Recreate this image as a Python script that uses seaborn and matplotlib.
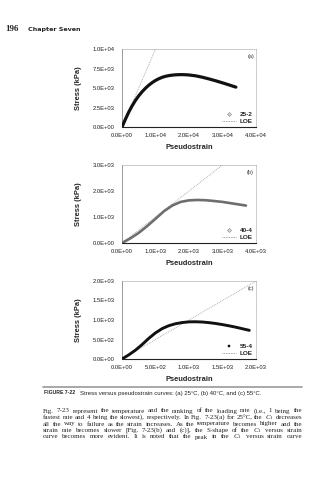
import matplotlib
matplotlib.use("Agg")
import matplotlib.pyplot as plt
import seaborn as sns
from matplotlib.lines import Line2D
from matplotlib.ticker import FuncFormatter, MultipleLocator

# ---------------- data ----------------
ps_a = [0, 1000, 2000, 3000, 4000, 5000, 6000, 7000, 8000, 9000, 10000, 11000, 12000,
        13000, 14000, 15000, 16000, 17000, 18000, 19000, 20000, 22000, 24000, 26000,
        28000, 30000, 32000, 34000]
st_a = [0, 980, 1900, 2700, 3400, 4000, 4520, 4970, 5360, 5690, 5970, 6190, 6370,
        6500, 6590, 6650, 6690, 6710, 6715, 6700, 6670, 6560, 6380, 6160,
        5920, 5660, 5390, 5110]

ps_b = [0, 250, 500, 750, 1000, 1250, 1500, 1750, 2000, 2250, 2500, 2750, 3000, 3250, 3500, 3700]
st_b = [0, 180, 390, 650, 930, 1220, 1440, 1580, 1640, 1655, 1645, 1615, 1580, 1530, 1480, 1440]

ps_c = [0, 100, 200, 300, 400, 500, 600, 700, 800, 900, 1000, 1100, 1200, 1300, 1400,
        1500, 1600, 1700, 1800, 1900]
st_c = [0, 105, 225, 370, 530, 670, 780, 855, 905, 935, 952, 955, 948, 932, 910,
        882, 850, 815, 775, 735]

loe_a = [0, 10000]
loe_b = [0, 3000]
loe_c = [0, 2000]

series_names = ["25-2", "40-4", "55-4"]
panel_tags = ["(a)", "(b)", "(c)"]
x_max = [40000, 4000, 2000]
x_step = [10000, 1000, 500]
y_max = [10000, 3000, 2000]
y_step = [2500, 1000, 500]

x_label = "Pseudostrain"
y_label = "Stress (kPa)"
header_num = "196"
header_txt = "Chapter Seven"
fig_label = "FIGURE 7-22"
caption = "Stress versus pseudostrain curves: (a) 25°C, (b) 40°C, and (c) 55°C."
paragraph = [
    "Fig. 7-23 represent the temperature and the ranking of the loading rate (i.e., 1 being the",
    "fastest rate and 4 being the slowest), respectively. In Fig. 7-23(a) for 25°C, the $C_1$ decreases",
    "all the way to failure as the strain increases. As the temperature becomes higher and the",
    "strain rate becomes slower [Fig. 7-23(b) and (c)], the S-shape of the $C_1$ versus strain",
    "curve becomes more evident. It is noted that the peak in the $C_1$ versus strain curve",
]

# ---------------- style ----------------
sns.set_style("white")
plt.rcParams["font.family"] = ["Liberation Sans", "DejaVu Sans"]
plt.rcParams["mathtext.fontset"] = "custom"
plt.rcParams["mathtext.rm"] = "Liberation Serif"
plt.rcParams["mathtext.it"] = "Liberation Serif:italic"

W, H = 328, 480
fig = plt.figure(figsize=(W / 100, H / 100), dpi=100)
fig.patch.set_facecolor("white")

boxes = [(49, 127), (165, 243), (281, 359)]
left_px, width_px = 122, 134
curves = [(ps_a, st_a, loe_a), (ps_b, st_b, loe_b), (ps_c, st_c, loe_c)]
line_colors = ["#111111", "#6e6e6e", "#111111"]
line_widths = [2.3, 1.9, 2.1]
leg_markers = [dict(marker="D", ms=2.0, mfc="#e0e0e0", mec="#777777", mew=0.4),
               dict(marker="D", ms=2.0, mfc="#e0e0e0", mec="#777777", mew=0.4),
               dict(marker="s", ms=1.6, mfc="#111111", mec="#111111", mew=0.3)]

fmt = FuncFormatter(lambda v, p: f"{v:.1E}")

for i, (top, bot) in enumerate(boxes):
    ax = fig.add_axes([left_px / W, 1 - bot / H, width_px / W, (bot - top) / H])
    xs, ys, loe = curves[i]
    sns.lineplot(x=loe, y=loe, ax=ax, color="#9a9a9a", lw=0.6, ls=(0, (1, 1.2)),
                 legend=False, zorder=2)
    sns.lineplot(x=xs, y=ys, ax=ax, color=line_colors[i], lw=line_widths[i],
                 legend=False, zorder=3)
    ax.set_xlim(0, x_max[i])
    ax.set_ylim(0, y_max[i])
    ax.xaxis.set_major_locator(MultipleLocator(x_step[i]))
    ax.yaxis.set_major_locator(MultipleLocator(y_step[i]))
    ax.xaxis.set_major_formatter(fmt)
    ax.yaxis.set_major_formatter(fmt)
    ax.tick_params(axis="x", direction="in", length=2, width=0.5, pad=4.5,
                   labelsize=4.2, colors="#222222")
    ax.tick_params(axis="y", direction="out", length=1.5, width=0.5, pad=4.0,
                   labelsize=4.2, colors="#222222")
    for s in ["top", "right"]:
        ax.spines[s].set_linestyle((0, (1.5, 1.5)))
        ax.spines[s].set_color("#aaaaaa")
        ax.spines[s].set_linewidth(0.5)
    ax.spines["left"].set_color("#888888")
    ax.spines["left"].set_linewidth(0.6)
    ax.spines["bottom"].set_color("#222222")
    ax.spines["bottom"].set_linewidth(0.8)
    ax.set_xlabel(x_label, fontsize=5.4, fontweight="bold", labelpad=4.0)
    ax.set_ylabel(y_label, fontsize=5.4, fontweight="bold")
    ax.yaxis.set_label_coords(-(122 - 82) / width_px, 0.5)
    ax.text(0.985, 0.90, panel_tags[i], transform=ax.transAxes, ha="right",
            va="center", fontsize=4.0, color="#333333")
    handles = [Line2D([], [], ls="none", **leg_markers[i]),
               Line2D([], [], ls=(0, (1, 1)), color="#888888", lw=0.6)]
    ax.legend(handles, [series_names[i], "LOE"], loc="lower right", frameon=False,
              prop={"size": 4.6, "weight": "bold"}, handlelength=2.3,
              handletextpad=0.6, labelspacing=0.25, borderaxespad=0.25,
              borderpad=0.2)

# ---------------- page text ----------------
fig.text(5 / W, 1 - 29 / H, header_num, fontsize=6.5, fontweight="bold",
         family=["Liberation Serif"], va="center", ha="left")
fig.text(28 / W, 1 - 29 / H, header_txt, fontsize=4.6, fontweight="bold",
         family=["DejaVu Sans"], va="center", ha="left")

fig.add_artist(Line2D([43 / W, 302 / W], [1 - 387 / H, 1 - 387 / H],
                      color="#9a9a9a", lw=1.2))
fig.text(44 / W, 1 - 393 / H, fig_label, fontsize=3.7, fontweight="bold",
         va="center", ha="left")
fig.text(80 / W, 1 - 393 / H, caption, fontsize=4.3, va="center", ha="left",
         color="#222222")

# justified paragraph; widths measured in figure fractions (dpi independent)
renderer = fig.canvas.get_renderer()
inv = fig.transFigure.inverted()


def frac_width(t):
    bb = t.get_window_extent(renderer).transformed(inv)
    return bb.width


x0, x1 = 43 / W, 302 / W
line_ys = [411, 417.5, 424, 430.5, 437]
fs0 = 5.0
space0 = 0.25 * fs0 / 72 / (W / 100)
naturals = []
for ln in paragraph:
    words = ln.split(" ")
    ws = []
    for w in words:
        t = fig.text(0, 0, w, fontsize=fs0, family="Liberation Serif")
        ws.append(frac_width(t))
        t.remove()
    naturals.append(sum(ws) + space0 * (len(words) - 1))
fs = fs0 * (x1 - x0) / max(naturals)
for ln, yy in zip(paragraph, line_ys):
    words = ln.split(" ")
    arts = [fig.text(0, 1 - yy / H, w, fontsize=fs, family="Liberation Serif",
                     va="center", ha="left", color="#222222") for w in words]
    widths = [frac_width(a) for a in arts]
    gap = max(0.5 / W, (x1 - x0 - sum(widths)) / (len(words) - 1))
    x = x0
    for a, w in zip(arts, widths):
        a.set_x(x)
        x += w + gap

fig.savefig("out.png", dpi=100, facecolor="white")
